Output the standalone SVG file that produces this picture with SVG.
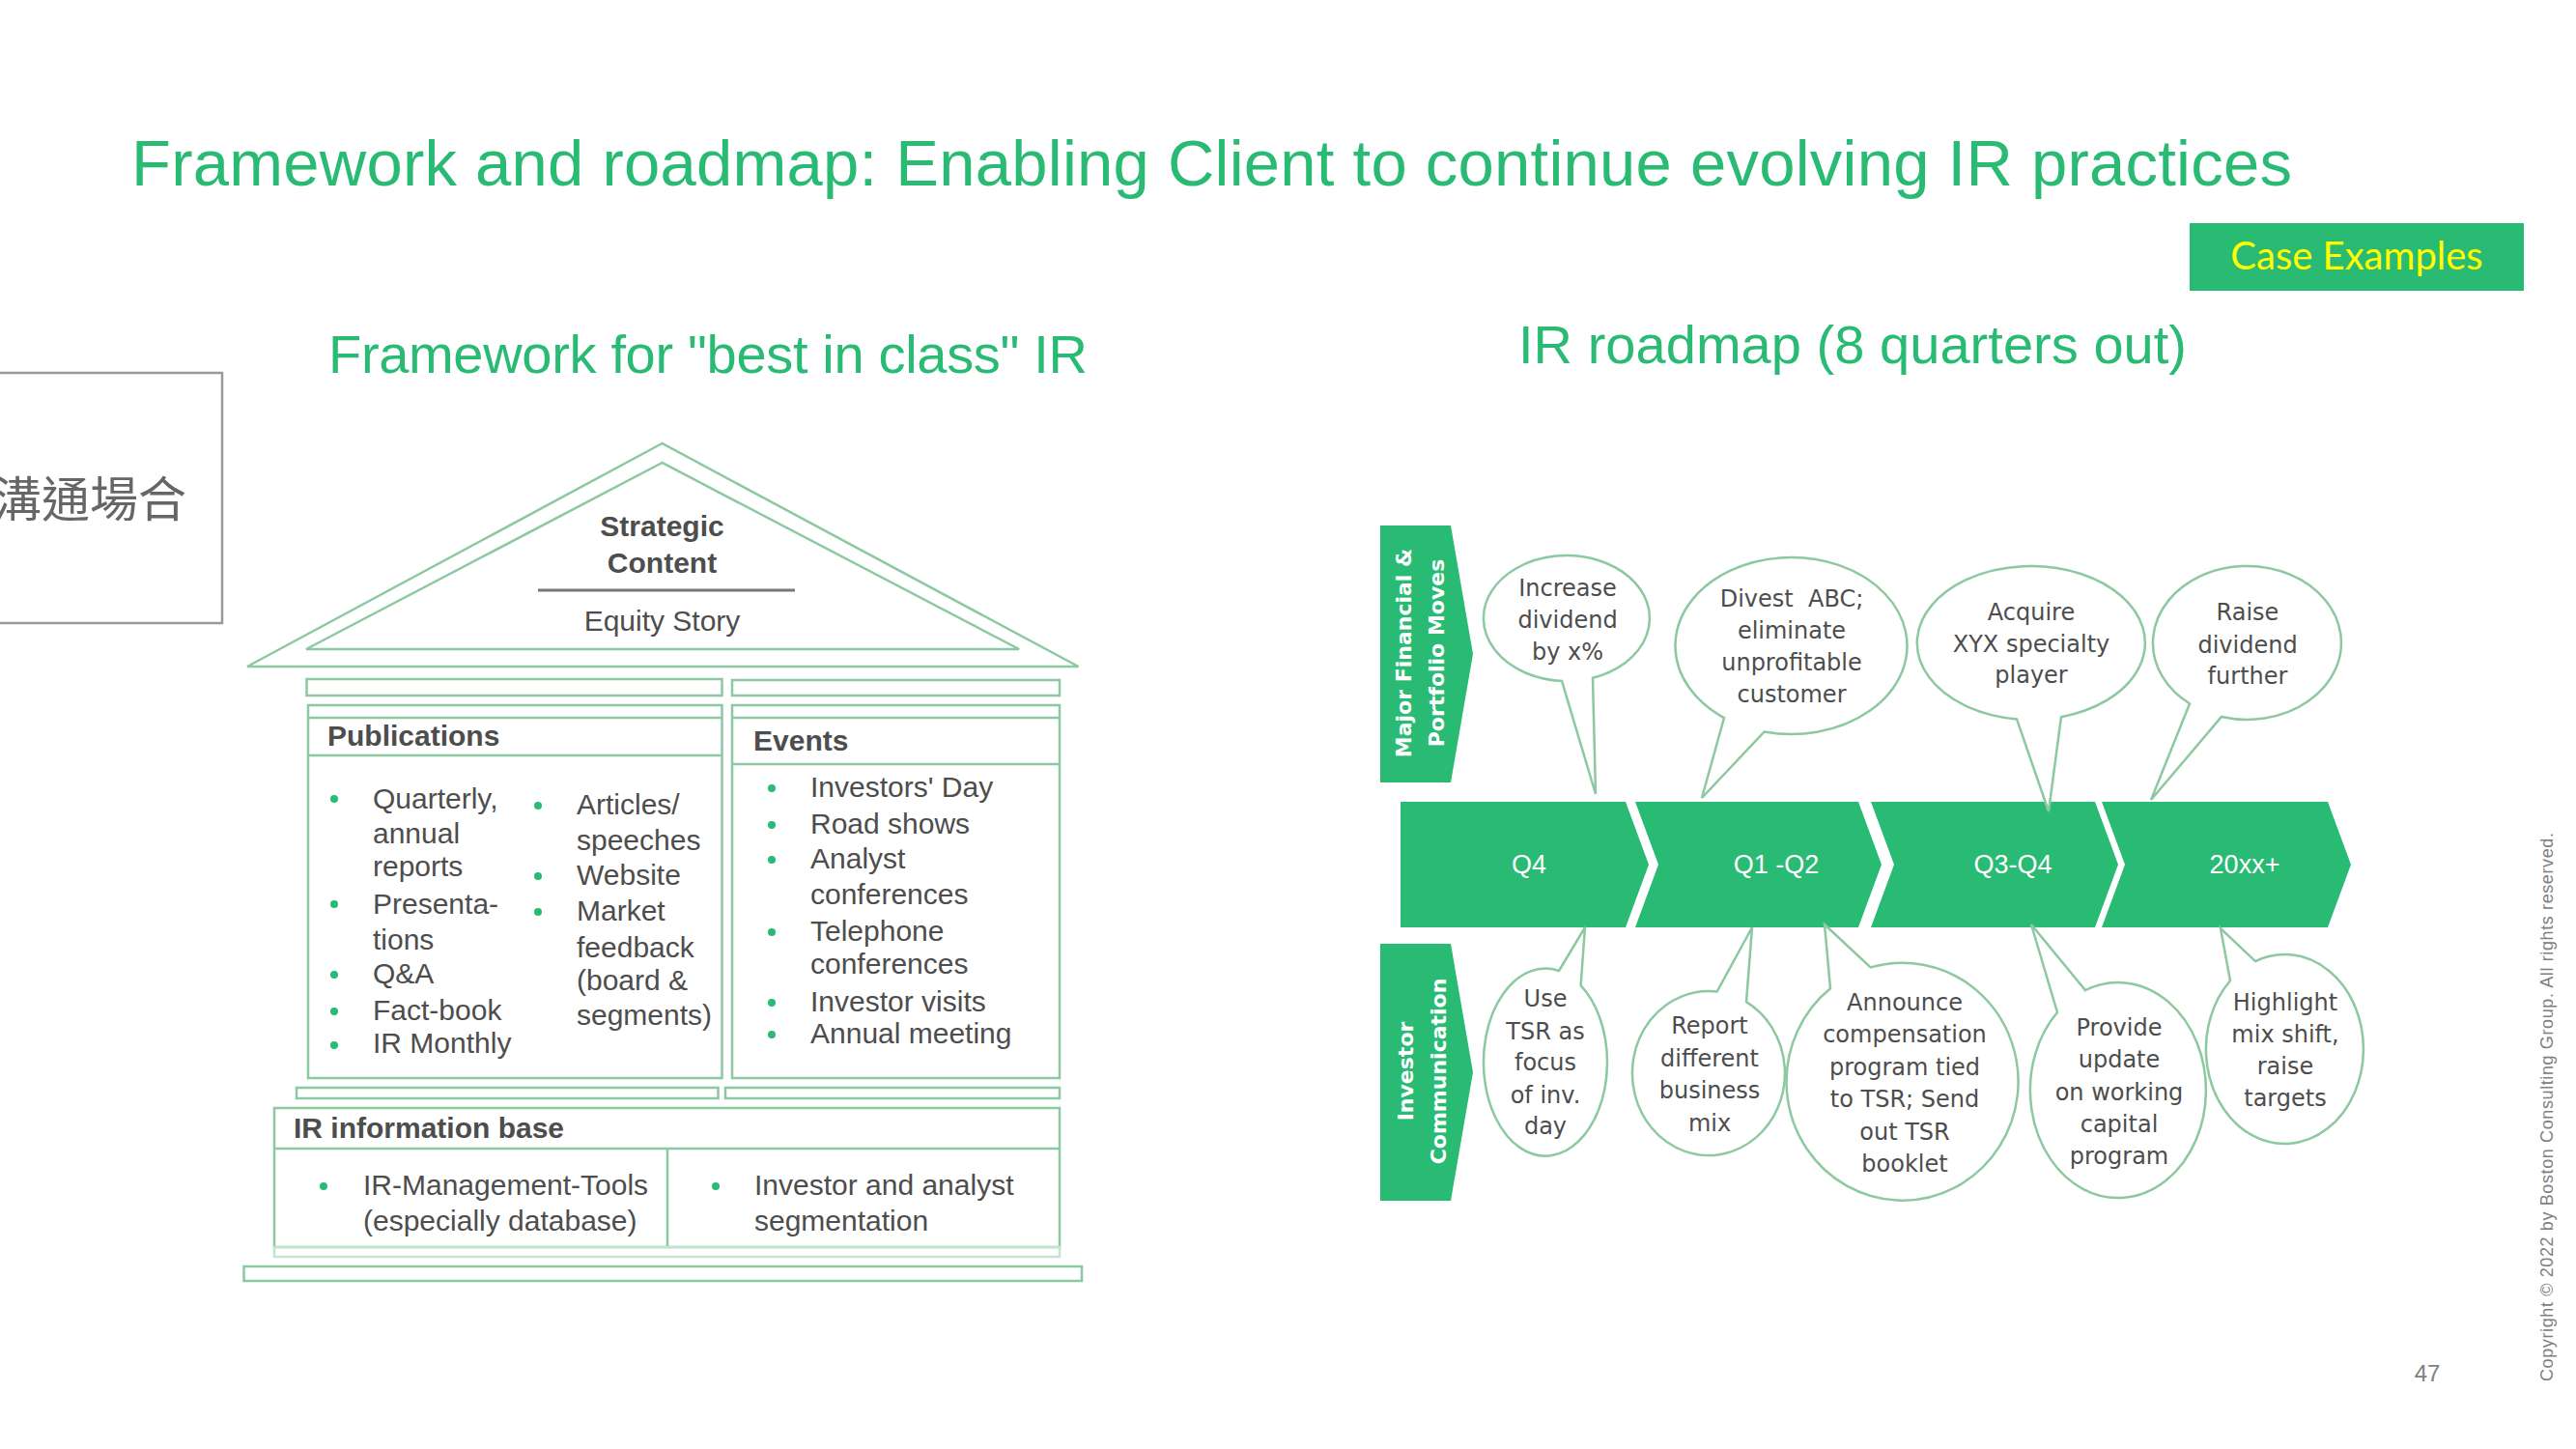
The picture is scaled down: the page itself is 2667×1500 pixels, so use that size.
<svg xmlns="http://www.w3.org/2000/svg" width="2667" height="1500" viewBox="0 0 2667 1500">
  <defs>
    <style>
      .ol { fill: none; stroke: #8CC8A0; stroke-width: 2.5; }
      .ol2 { fill: none; stroke: #C4E4D0; stroke-width: 2.5; }
      .txt { font-family: "Liberation Sans", Arial, sans-serif; font-size: 30px; fill: #4D4D4D; }
      .bold { font-weight: bold; }
      .mid { text-anchor: middle; }
      .dot { fill: #29BA74; }
      .green { fill: #29BA74; }
      .bub { fill: #FFFFFF; stroke: #8CC8A0; stroke-width: 2.5; stroke-linejoin: miter; }
      .bt { font-family: "DejaVu Sans", Verdana, sans-serif; font-size: 24px; fill: #4D4D4D; text-anchor: middle; }
      .side { font-family: "DejaVu Sans", Verdana, sans-serif; font-size: 22px; font-weight: bold; fill: #FFFFFF; text-anchor: middle; }
      .cl { font-family: "Liberation Sans", Arial, sans-serif; font-size: 27px; fill: #FFFFFF; text-anchor: middle; }
      .head { font-family: "Liberation Sans", Arial, sans-serif; fill: #29BA74; }
    </style>
  </defs>

  <rect width="2667" height="1500" fill="#FFFFFF"/>

  <!-- Slide title -->
  <text class="head" x="136" y="192" font-size="67" textLength="2237">Framework and roadmap: Enabling Client to continue evolving IR practices</text>

  <!-- Tag -->
  <g id="case-examples">
    <rect x="2267" y="231" width="346" height="70" fill="#29BA74"/>
    <text x="2440" y="279" font-family="Lato, 'Liberation Sans', sans-serif" font-size="40" fill="#FFFF00" text-anchor="middle">Case Examples</text>
  </g>

  <!-- Section headings -->
  <text class="head" x="340" y="386" font-size="56" textLength="786">Framework for "best in class" IR</text>
  <text class="head" x="1572" y="376" font-size="56" textLength="692">IR roadmap (8 quarters out)</text>

  <!-- Clipped side box -->
  <g id="side-box">
    <rect x="-4" y="386" width="234" height="259" fill="none" stroke="#999999" stroke-width="2.5"/>
    <text x="193" y="535" font-family="'Noto Sans CJK TC', 'Noto Sans CJK SC', sans-serif" font-size="50" fill="#666666" text-anchor="end">溝通場合</text>
  </g>

  <!-- ===== House framework ===== -->
  <g id="roof">
    <polygon class="ol" points="685.5,459 256,690 1116.5,690"/>
    <polygon class="ol" points="685.5,479 317,672 1055,672"/>
    <text class="txt bold mid" x="685.5" y="555">Strategic</text>
    <text class="txt bold mid" x="685.5" y="593">Content</text>
    <line x1="557" y1="611" x2="823" y2="611" stroke="#777777" stroke-width="3"/>
    <text class="txt mid" x="685.5" y="653">Equity Story</text>
  </g>

  <g id="entablature">
    <rect class="ol" x="317.5" y="703" width="430" height="17"/>
    <rect class="ol" x="758" y="704" width="339" height="16"/>
  </g>

  <g id="publications">
    <rect class="ol" x="319" y="730" width="428.5" height="386"/>
    <line class="ol" x1="319" y1="743" x2="747.5" y2="743"/>
    <line class="ol" x1="319" y1="782" x2="747.5" y2="782"/>
    <text class="txt bold" x="339" y="772">Publications</text>
    <circle class="dot" cx="346" cy="827" r="4"/>
    <text class="txt" x="386" y="837">Quarterly,</text>
    <text class="txt" x="386" y="873">annual</text>
    <text class="txt" x="386" y="907">reports</text>
    <circle class="dot" cx="346" cy="936" r="4"/>
    <text class="txt" x="386" y="946">Presenta-</text>
    <text class="txt" x="386" y="983">tions</text>
    <circle class="dot" cx="346" cy="1009" r="4"/>
    <text class="txt" x="386" y="1018">Q&amp;A</text>
    <circle class="dot" cx="346" cy="1047" r="4"/>
    <text class="txt" x="386" y="1056">Fact-book</text>
    <circle class="dot" cx="346" cy="1082" r="4"/>
    <text class="txt" x="386" y="1090">IR Monthly</text>

    <circle class="dot" cx="557" cy="834" r="4"/>
    <text class="txt" x="597" y="843">Articles/</text>
    <text class="txt" x="597" y="880">speeches</text>
    <circle class="dot" cx="557" cy="907" r="4"/>
    <text class="txt" x="597" y="916">Website</text>
    <circle class="dot" cx="557" cy="944" r="4"/>
    <text class="txt" x="597" y="953">Market</text>
    <text class="txt" x="597" y="991">feedback</text>
    <text class="txt" x="597" y="1025">(board &amp;</text>
    <text class="txt" x="597" y="1061">segments)</text>
  </g>

  <g id="events">
    <rect class="ol" x="758" y="730" width="339" height="386"/>
    <line class="ol" x1="758" y1="743" x2="1097" y2="743"/>
    <line class="ol" x1="758" y1="791" x2="1097" y2="791"/>
    <text class="txt bold" x="780" y="777">Events</text>
    <circle class="dot" cx="799" cy="816" r="4"/>
    <text class="txt" x="839" y="825">Investors' Day</text>
    <circle class="dot" cx="799" cy="854" r="4"/>
    <text class="txt" x="839" y="863">Road shows</text>
    <circle class="dot" cx="799" cy="890" r="4"/>
    <text class="txt" x="839" y="899">Analyst</text>
    <text class="txt" x="839" y="936">conferences</text>
    <circle class="dot" cx="799" cy="965" r="4"/>
    <text class="txt" x="839" y="974">Telephone</text>
    <text class="txt" x="839" y="1008">conferences</text>
    <circle class="dot" cx="799" cy="1038" r="4"/>
    <text class="txt" x="839" y="1047">Investor visits</text>
    <circle class="dot" cx="799" cy="1071" r="4"/>
    <text class="txt" x="839" y="1080">Annual meeting</text>
  </g>

  <g id="lower-beams">
    <rect class="ol" x="307" y="1126" width="436.5" height="11"/>
    <rect class="ol" x="751" y="1126" width="346" height="11"/>
  </g>

  <g id="ir-information-base">
    <rect class="ol" x="284" y="1147" width="813" height="144"/>
    <line class="ol" x1="284" y1="1189" x2="1097" y2="1189"/>
    <line class="ol" x1="691" y1="1189" x2="691" y2="1291"/>
    <text class="txt bold" x="304" y="1178">IR information base</text>
    <circle class="dot" cx="335" cy="1228" r="4"/>
    <text class="txt" x="376" y="1237">IR-Management-Tools</text>
    <text class="txt" x="376" y="1274">(especially database)</text>
    <circle class="dot" cx="741" cy="1228" r="4"/>
    <text class="txt" x="781" y="1237">Investor and analyst</text>
    <text class="txt" x="781" y="1274">segmentation</text>
    <rect class="ol2" x="284" y="1291" width="813" height="10"/>
  </g>

  <g id="foundation">
    <rect class="ol" x="252.5" y="1311" width="867.5" height="15"/>
  </g>

  <!-- ===== Roadmap ===== -->
  <g id="label-financial">
    <polygon class="green" points="1429,544 1502,544 1525,677 1502,810 1429,810"/>
    <g transform="translate(0,676)">
      <text class="side" transform="translate(1461,0) rotate(-90)">Major Financial &amp;</text>
      <text class="side" transform="translate(1495,0) rotate(-90)">Portfolio Moves</text>
    </g>
  </g>

  <g id="label-communication">
    <polygon class="green" points="1429,977 1502,977 1525,1110 1502,1243 1429,1243"/>
    <g transform="translate(0,1109)">
      <text class="side" transform="translate(1463,0) rotate(-90)">Investor</text>
      <text class="side" transform="translate(1497,0) rotate(-90)">Communication</text>
    </g>
  </g>

  <g id="timeline">
    <g id="q4">
      <path class="green" d="M1450,830 L1683,830 L1707,895 L1683,960 L1450,960 Z"/>
      <text class="cl" x="1583" y="904">Q4</text>
    </g>
    <g id="q1-q2">
      <path class="green" d="M1693,830 L1924,830 L1948,895 L1924,960 L1693,960 L1717,895 Z"/>
      <text class="cl" x="1839" y="904">Q1 -Q2</text>
    </g>
    <g id="q3-q4">
      <path class="green" d="M1937,830 L2169,830 L2193,895 L2169,960 L1937,960 L1961,895 Z"/>
      <text class="cl" x="2084" y="904">Q3-Q4</text>
    </g>
    <g id="y20xx">
      <path class="green" d="M2176,830 L2410,830 L2434,895 L2410,960 L2176,960 L2200,895 Z"/>
      <text class="cl" x="2324" y="904">20xx+</text>
    </g>
  </g>

  <!-- Callouts above the timeline -->
  <g id="callout-dividend">
    <path class="bub" d="M1617,704.9 L1652,822 L1649,701.7 A86,65 0 1 0 1617,704.9 Z"/>
    <text class="bt" x="1623" y="617">Increase</text>
    <text class="bt" x="1623" y="650">dividend</text>
    <text class="bt" x="1623" y="683">by x%</text>
  </g>

  <g id="callout-divest">
    <path class="bub" d="M1785,743.1 L1762,826 L1826.6,757.5 A120,91.5 0 1 0 1785,743.1 Z"/>
    <text class="bt" x="1855" y="628" xml:space="preserve">Divest  ABC;</text>
    <text class="bt" x="1855" y="661">eliminate</text>
    <text class="bt" x="1855" y="694">unprofitable</text>
    <text class="bt" x="1855" y="727">customer</text>
  </g>

  <g id="callout-acquire">
    <path class="bub" d="M2088,744.4 L2121,840 L2134,742.2 A118,79.5 0 1 0 2088,744.4 Z"/>
    <text class="bt" x="2103" y="642">Acquire</text>
    <text class="bt" x="2103" y="675">XYX specialty</text>
    <text class="bt" x="2103" y="707">player</text>
  </g>

  <g id="callout-raise">
    <path class="bub" d="M2267,728.5 L2227,828 L2300,742 A97.5,79.5 0 1 0 2267,728.5 Z"/>
    <text class="bt" x="2327" y="642">Raise</text>
    <text class="bt" x="2327" y="676">dividend</text>
    <text class="bt" x="2327" y="708">further</text>
  </g>

  <!-- Callouts below the timeline -->
  <g id="callout-tsr-focus">
    <path class="bub" d="M1614,1005 L1641,960 L1636.6,1020.1 A64,97 0 1 1 1614,1005 Z"/>
    <text class="bt" x="1600" y="1042">Use</text>
    <text class="bt" x="1600" y="1076">TSR as</text>
    <text class="bt" x="1600" y="1108">focus</text>
    <text class="bt" x="1600" y="1142">of inv.</text>
    <text class="bt" x="1600" y="1174">day</text>
  </g>

  <g id="callout-report">
    <path class="bub" d="M1777.7,1026.5 L1814,960 L1808,1037.1 A79,85 0 1 1 1777.7,1026.5 Z"/>
    <text class="bt" x="1770" y="1070">Report</text>
    <text class="bt" x="1770" y="1104">different</text>
    <text class="bt" x="1770" y="1137">business</text>
    <text class="bt" x="1770" y="1171">mix</text>
  </g>

  <g id="callout-compensation">
    <path class="bub" d="M1895,1023.3 L1889,957 L1936.6,1001.4 A120,123 0 1 1 1895,1023.3 Z"/>
    <text class="bt" x="1972" y="1046">Announce</text>
    <text class="bt" x="1972" y="1079">compensation</text>
    <text class="bt" x="1972" y="1113">program tied</text>
    <text class="bt" x="1972" y="1146">to TSR; Send</text>
    <text class="bt" x="1972" y="1180">out TSR</text>
    <text class="bt" x="1972" y="1213">booklet</text>
  </g>

  <g id="callout-working-capital">
    <path class="bub" d="M2130,1048 L2103,957 L2159,1025.1 A91,111.5 0 1 1 2130,1048 Z"/>
    <text class="bt" x="2194" y="1072">Provide</text>
    <text class="bt" x="2194" y="1105">update</text>
    <text class="bt" x="2194" y="1139">on working</text>
    <text class="bt" x="2194" y="1172">capital</text>
    <text class="bt" x="2194" y="1205">program</text>
  </g>

  <g id="callout-mix-shift">
    <path class="bub" d="M2309,1015.3 L2299,961 L2335,995.1 A81.5,98 0 1 1 2309,1015.3 Z"/>
    <text class="bt" x="2366" y="1046">Highlight</text>
    <text class="bt" x="2366" y="1079">mix shift,</text>
    <text class="bt" x="2366" y="1112">raise</text>
    <text class="bt" x="2366" y="1145">targets</text>
  </g>

  <!-- Footer -->
  <text font-family="'Liberation Sans', Arial, sans-serif" font-size="18" fill="#808080" transform="translate(2643,1430) rotate(-90)" textLength="568">Copyright © 2022 by Boston Consulting Group. All rights reserved.</text>
  <text x="2513" y="1430" font-family="'Liberation Sans', Arial, sans-serif" font-size="24" fill="#808080" text-anchor="middle">47</text>
</svg>
